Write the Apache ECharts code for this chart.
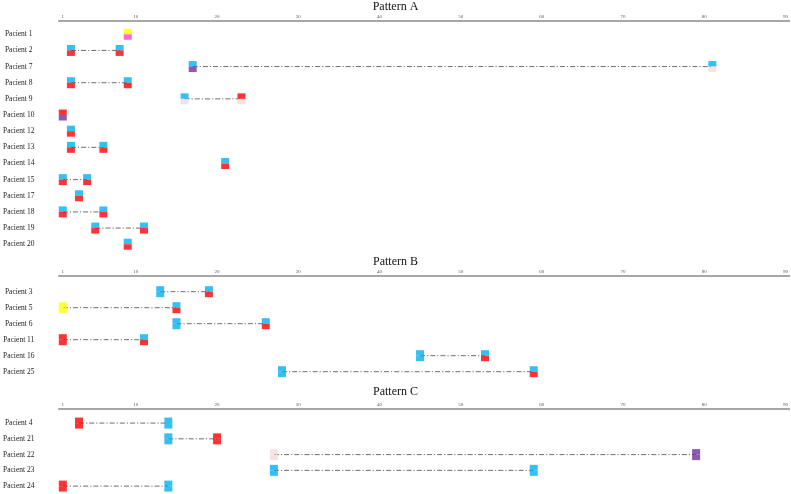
<!DOCTYPE html>
<html>
<head>
<meta charset="utf-8">
<script src="https://cdn.jsdelivr.net/npm/echarts@6/dist/echarts.min.js"></script>
<style>html,body{margin:0;padding:0;background:#fff;}#chart{width:791px;height:494px;}</style>
</head>
<body>
<div id="chart"></div>
<script>
// ---------- DATA ----------
const tickValues = [1, 10, 20, 30, 40, 50, 60, 70, 80, 90];

const patternTitles = ['Pattern A', 'Pattern B', 'Pattern C'];

// Pattern A
const patientsA = ['Pacient 1','Pacient 2','Pacient 7','Pacient 8','Pacient 9','Pacient 10','Pacient 12','Pacient 13','Pacient 14','Pacient 15','Pacient 17','Pacient 18','Pacient 19','Pacient 20'];
const startA       = [9, 2, 17, 2, 16, 1, 2, 2, 21, 1, 3, 1, 5, 9];
const startTopA    = ['yellow','blue','blue','blue','blue','red','blue','blue','blue','blue','blue','blue','blue','blue'];
const startBottomA = ['magenta','red','purple','red','lightpink','purple','red','red','red','red','red','red','red','red'];
const endA         = [null, 8, 81, 9, 23, null, null, 6, null, 4, null, 6, 11, null];
const endTopA      = [null,'blue','blue','blue','red',null,null,'blue',null,'blue',null,'blue','blue',null];
const endBottomA   = [null,'red','lightpink','red','lightpink',null,null,'red',null,'red',null,'red','red',null];

// Pattern B
const patientsB = ['Pacient 3','Pacient 5','Pacient 6','Pacient 11','Pacient 16','Pacient 25'];
const startB       = [13, 1, 15, 1, 45, 28];
const startTopB    = ['blue','yellow','blue','red','blue','blue'];
const startBottomB = ['blue','yellow','blue','red','blue','blue'];
const endB         = [19, 15, 26, 11, 53, 59];
const endTopB      = ['blue','blue','blue','blue','blue','blue'];
const endBottomB   = ['red','red','red','red','red','red'];

// Pattern C
const patientsC = ['Pacient 4','Pacient 21','Pacient 22','Pacient 23','Pacient 24'];
const startC       = [3, 14, 27, 27, 1];
const startTopC    = ['red','blue','lightpink','blue','red'];
const startBottomC = ['red','blue','lightpink','blue','red'];
const endC         = [14, 20, 79, 59, 14];
const endTopC      = ['blue','red','purple','blue','blue'];
const endBottomC   = ['blue','red','purple','blue','blue'];

// ---------- STYLE ----------
const stateColors = {
  blue: '#00b0f0', red: '#ff0000', yellow: '#ffff00', magenta: '#ff3fd0',
  purple: '#7030a0', lightpink: '#f2dcdb'
};
const serif = '"Liberation Serif","Times New Roman",serif';

const layouts = [
  { titleTop: -4, gridTop: 26.2, bandH: 16.15, offset: 5 },
  { titleTop: 251, gridTop: 283.7, bandH: 16.0, offset: 7.5 },
  { titleTop: 381, gridTop: 415.2, bandH: 16.25, offset: 6 }
];
const sets = [
  [patientsA, startA, startTopA, startBottomA, endA, endTopA, endBottomA],
  [patientsB, startB, startTopB, startBottomB, endB, endTopB, endBottomB],
  [patientsC, startC, startTopC, startBottomC, endC, endTopC, endBottomC]
];

const grids = [], xAxes = [], yAxes = [], series = [], titles = [];
const MW = 8, MH = 5.5;

sets.forEach((s, gi) => {
  const [pats, st, stT, stB, en, enT, enB] = s;
  const L = layouts[gi];
  titles.push({
    text: patternTitles[gi], left: 'center', top: L.titleTop,
    textStyle: { fontFamily: serif, fontSize: 12, fontWeight: 'normal', color: '#111' }
  });
  grids.push({ left: 56, right: 1.5, top: L.gridTop, height: L.bandH * pats.length });
  xAxes.push({
    type: 'value', gridIndex: gi, position: 'top', min: 0.5, max: 90.5, offset: L.offset,
    splitLine: { show: false },
    axisTick: { show: false },
    axisLine: { show: true, lineStyle: { color: '#8a8a8a', width: 1.5 } },
    axisLabel: {
      customValues: tickValues, fontSize: 5, color: '#555', fontFamily: serif, margin: 2,
      showMinLabel: true, showMaxLabel: true
    }
  });
  yAxes.push({
    type: 'category', gridIndex: gi, data: pats, inverse: true,
    axisLine: { show: false }, axisTick: { show: false }, splitLine: { show: false },
    axisLabel: { align: 'center', margin: 40, fontSize: 7.5, fontFamily: serif, color: '#222' }
  });
  // connecting lines
  pats.forEach((p, i) => {
    if (en[i] !== null) {
      series.push({
        type: 'line', xAxisIndex: gi, yAxisIndex: gi, symbol: 'none', silent: true, z: 1,
        data: [[st[i], p], [en[i], p]],
        lineStyle: { color: '#6e6e6e', width: 1, type: [5, 2, 1.2, 2] }
      });
    }
  });
  const top = [], bot = [];
  pats.forEach((p, i) => {
    top.push({ value: [st[i], p], itemStyle: { color: stateColors[stT[i]] } });
    bot.push({ value: [st[i], p], itemStyle: { color: stateColors[stB[i]] } });
    if (en[i] !== null) {
      top.push({ value: [en[i], p], itemStyle: { color: stateColors[enT[i]] } });
      bot.push({ value: [en[i], p], itemStyle: { color: stateColors[enB[i]] } });
    }
  });
  series.push({
    type: 'scatter', xAxisIndex: gi, yAxisIndex: gi, symbol: 'rect',
    symbolSize: [MW, MH], symbolOffset: [0, -MH / 2], data: top, z: 3, silent: true
  });
  series.push({
    type: 'scatter', xAxisIndex: gi, yAxisIndex: gi, symbol: 'rect',
    symbolSize: [MW, MH], symbolOffset: [0, MH / 2], data: bot, z: 3, silent: true
  });
});

const chart = echarts.init(document.getElementById('chart'), null, { renderer: 'canvas' });
chart.setOption({
  animation: false,
  backgroundColor: '#ffffff',
  title: titles,
  grid: grids,
  xAxis: xAxes,
  yAxis: yAxes,
  series: series
});
</script>
</body>
</html>
